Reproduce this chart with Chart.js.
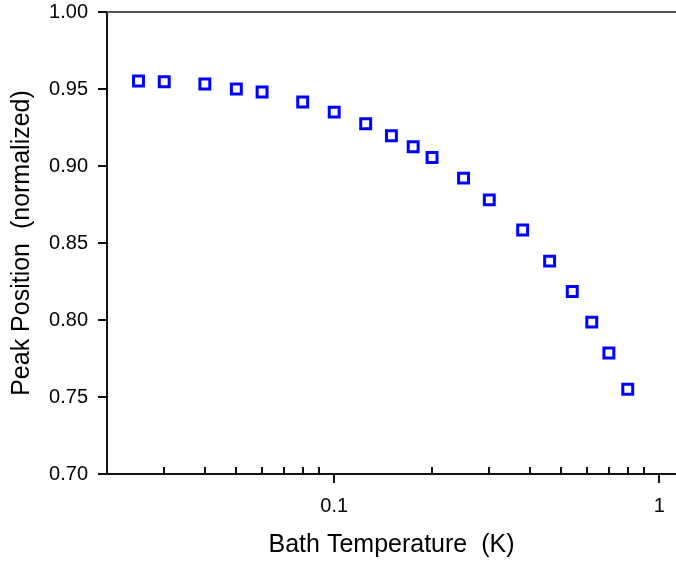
<!DOCTYPE html>
<html>
<head>
<meta charset="utf-8">
<script src="https://cdn.jsdelivr.net/npm/chart.js@4/dist/chart.umd.min.js"></script>
<style>
  html, body { margin: 0; padding: 0; background: #fff; overflow: hidden; }
  #wrap { width: 676px; height: 562px; }
</style>
</head>
<body>
<div id="wrap"><canvas id="c" width="676" height="562"></canvas></div>
<script>
// Bath temperature (K) and normalized peak position
const temperatures = [0.025, 0.030, 0.040, 0.050, 0.060, 0.080, 0.100, 0.125, 0.150, 0.175,
                      0.200, 0.250, 0.300, 0.380, 0.460, 0.540, 0.620, 0.700, 0.800];
const peakPositions = [0.9552, 0.9547, 0.9532, 0.9500, 0.9481, 0.9416, 0.9350, 0.9274, 0.9196, 0.9125,
                       0.9055, 0.8921, 0.8780, 0.8584, 0.8382, 0.8185, 0.7986, 0.7786, 0.7550];

// Axis ticks
const yTicks = [0.70, 0.75, 0.80, 0.85, 0.90, 0.95, 1.00];
const xMajorTicks = [0.1, 1];
const xMinorTicks = [0.02, 0.03, 0.04, 0.05, 0.06, 0.07, 0.08, 0.09,
                     0.2, 0.3, 0.4, 0.5, 0.6, 0.7, 0.8, 0.9];

const FONT = "'Liberation Sans', Arial, Helvetica, sans-serif";
const AXIS_COLOR = '#111';

// Minor ticks point inward from the x axis; a gray frame line runs along the top.
const frameAndMinorTicks = {
  id: 'frameAndMinorTicks',
  afterDraw(chart) {
    const { ctx, chartArea } = chart;
    const xs = chart.scales.x;
    ctx.save();
    ctx.strokeStyle = '#555';
    ctx.lineWidth = 2;
    ctx.beginPath();
    ctx.moveTo(chartArea.left, chartArea.top);
    ctx.lineTo(chartArea.right, chartArea.top);
    ctx.stroke();

    ctx.strokeStyle = AXIS_COLOR;
    ctx.lineWidth = 2;
    ctx.beginPath();
    xMinorTicks.forEach(v => {
      const px = Math.round(xs.getPixelForValue(v));
      ctx.moveTo(px, chartArea.bottom);
      ctx.lineTo(px, chartArea.bottom - 7);
    });
    ctx.stroke();
    ctx.restore();
  }
};

const data = {
  datasets: [{
    data: temperatures.map((t, i) => ({ x: t, y: peakPositions[i] })),
    showLine: false,
    pointStyle: 'rect',
    pointRadius: 7,
    pointHoverRadius: 7,
    pointBorderWidth: 3,
    borderColor: '#0000ff',
    backgroundColor: '#ffffff'
  }]
};

new Chart(document.getElementById('c'), {
  type: 'scatter',
  data,
  plugins: [frameAndMinorTicks],
  options: {
    responsive: false,
    animation: false,
    devicePixelRatio: 1,
    layout: { autoPadding: false, padding: { top: 12, right: 0, bottom: 0, left: 0 } },
    plugins: { legend: { display: false }, tooltip: { enabled: false } },
    scales: {
      x: {
        type: 'logarithmic',
        position: 'bottom',
        min: 0.02,
        max: 1.126,
        afterBuildTicks(scale) {
          scale.ticks = [...xMinorTicks, ...xMajorTicks]
            .sort((a, b) => a - b)
            .map(v => ({ value: v }));
        },
        afterFit(scale) {
          scale.height = 88;
          scale.paddingLeft = 0;
          scale.paddingRight = 0;
        },
        ticks: {
          autoSkip: false,
          maxRotation: 0,
          minRotation: 0,
          padding: 11,
          color: '#000',
          font: { family: FONT, size: 20 },
          callback: v => (xMajorTicks.includes(v) ? String(v) : '')
        },
        grid: {
          drawOnChartArea: false,
          drawTicks: true,
          tickLength: 9,
          lineWidth: 2,
          color: ctx => (ctx.tick && xMajorTicks.includes(ctx.tick.value) ? AXIS_COLOR : 'rgba(0,0,0,0)')
        },
        border: { display: true, color: AXIS_COLOR, width: 2 },
        title: {
          display: true,
          text: 'Bath Temperature  (K)',
          color: '#000',
          font: { family: FONT, size: 25 },
          padding: { top: 0, bottom: 2 }
        }
      },
      y: {
        position: 'left',
        min: 0.70,
        max: 1.00,
        afterBuildTicks(scale) {
          scale.ticks = yTicks.map(v => ({ value: v }));
        },
        afterFit(scale) {
          scale.width = 107;
          scale.paddingTop = 0;
          scale.paddingBottom = 0;
        },
        ticks: {
          autoSkip: false,
          padding: 10,
          color: '#000',
          font: { family: FONT, size: 20 },
          callback: v => Number(v).toFixed(2)
        },
        grid: {
          drawOnChartArea: false,
          drawTicks: true,
          tickLength: 9,
          lineWidth: 2,
          color: AXIS_COLOR
        },
        border: { display: true, color: AXIS_COLOR, width: 2 },
        title: {
          display: true,
          text: 'Peak Position  (normalized)',
          color: '#000',
          font: { family: FONT, size: 25 },
          padding: { top: 7, bottom: 0 }
        }
      }
    }
  }
});
</script>
</body>
</html>
